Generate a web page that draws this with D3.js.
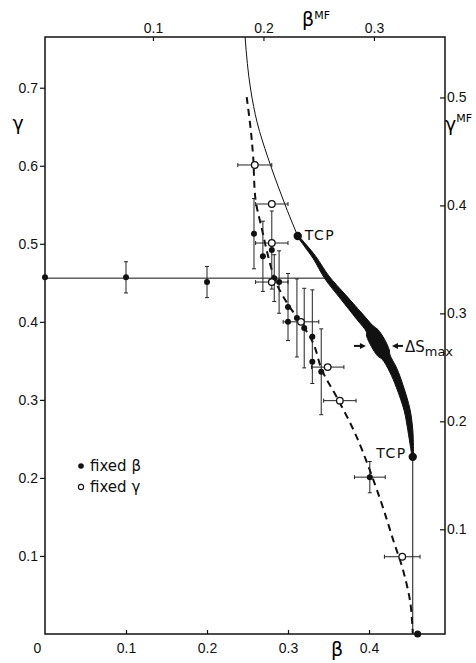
<!DOCTYPE html>
<html lang="en">
	<head>
		<meta charset="utf-8">
		<title>Phase diagram beta / gamma</title>
		<style type="text/css">
			body {
				margin: 0;
				background-color: white;
			}
			svg {
				background-color: white;
				font-family: "DejaVu Sans", sans-serif;
			}
			.axis path {
				display: none;
			}
			.axis line {
				stroke: #111;
				stroke-width: 1.2;
			}
			.axis text {
				font-size: 14px;
				fill: #111;
			}
			.frame {
				fill: none;
				stroke: #111;
				stroke-width: 1.5;
			}
			.thin {
				fill: none;
				stroke: #111;
				stroke-width: 1;
			}
			.dashed {
				fill: none;
				stroke: #111;
				stroke-width: 2;
				stroke-dasharray: 7,5;
			}
			.err {
				stroke: #222;
				stroke-width: 1;
			}
			.label {
				font-size: 14px;
				fill: #111;
			}
		</style>
	</head>
	<body>
	<script type="text/javascript" src="https://cdnjs.cloudflare.com/ajax/libs/d3/7.8.5/d3.min.js"></script>
	<script type="text/javascript">

		// --- data ---

		// filled dots: fixed beta (error bar in gamma)
		var fixedBetaB    = [0.000, 0.100, 0.200, 0.258, 0.269, 0.280, 0.283, 0.289, 0.300, 0.300, 0.311, 0.320, 0.330, 0.330, 0.341, 0.401];
		var fixedBetaG    = [0.457, 0.457, 0.451, 0.513, 0.484, 0.492, 0.456, 0.451, 0.419, 0.400, 0.405, 0.392, 0.381, 0.349, 0.336, 0.201];
		var fixedBetaGErr = [0.000, 0.020, 0.020, 0.045, 0.045, 0.050, 0.030, 0.040, 0.043, 0.000, 0.050, 0.051, 0.060, 0.000, 0.055, 0.020];
		var fixedBetaBErr = [0, 0, 0, 0, 0, 0, 0, 0, 0, 0, 0, 0, 0, 0, 0, 0.019];

		// open circles: fixed gamma (error bar in beta)
		var fixedGammaB    = [0.259, 0.280, 0.280, 0.280, 0.316, 0.349, 0.364, 0.441];
		var fixedGammaG    = [0.601, 0.551, 0.501, 0.451, 0.400, 0.342, 0.299, 0.099];
		var fixedGammaBErr = [0.021, 0.020, 0.020, 0.020, 0.022, 0.020, 0.020, 0.022];

		// mean-field line above the upper TCP
		var mfThinB = [0.247, 0.254, 0.262, 0.275, 0.288, 0.299, 0.312];
		var mfThinG = [0.765, 0.697, 0.655, 0.611, 0.573, 0.543, 0.510];

		// first-order segment between the two TCPs, with relative entropy jump
		var mfThickB  = [0.312, 0.322, 0.333, 0.348, 0.368, 0.389, 0.401, 0.404, 0.411, 0.418, 0.421, 0.430, 0.438, 0.447, 0.451, 0.453, 0.454];
		var mfThickG  = [0.510, 0.497, 0.482, 0.457, 0.432, 0.406, 0.391, 0.386, 0.373, 0.360, 0.355, 0.338, 0.317, 0.287, 0.261, 0.240, 0.227];
		var mfThickDS = [0.10, 0.17, 0.23, 0.33, 0.43, 0.53, 0.60, 0.87, 1.00, 0.87, 0.60, 0.53, 0.47, 0.40, 0.33, 0.20, 0.10];

		// mean-field line below the lower TCP
		var mfLowB = [0.454, 0.454];
		var mfLowG = [0.227, 0.000];
		var endDot = [0.460, 0.000];

		// horizontal line
		var hLineB = [0.000, 0.348];
		var hLineG = 0.456;

		// dashed line through the Monte Carlo points
		var dashB = [0.249, 0.254, 0.257, 0.260, 0.268, 0.275, 0.285, 0.299, 0.315, 0.331, 0.342, 0.362, 0.385, 0.414, 0.430, 0.442, 0.451, 0.454];
		var dashG = [0.688, 0.646, 0.611, 0.556, 0.518, 0.486, 0.451, 0.424, 0.400, 0.373, 0.338, 0.300, 0.252, 0.172, 0.120, 0.082, 0.040, 0.001];

		// tick labels
		var betaTicks    = [0, 0.1, 0.2, 0.3, 0.4];
		var gammaTicks   = [0.1, 0.2, 0.3, 0.4, 0.5, 0.6, 0.7];
		var betaMFTicks  = [0.1, 0.2, 0.3];
		var gammaMFTicks = [0.1, 0.2, 0.3, 0.4, 0.5];

		// --- drawing ---

		var fullwidth = 476;
		var fullheight = 663;
		var frame = { left: 45, right: 445, top: 37, bottom: 634 };

		var svg = d3.select("body")
				.append("svg")
				.attr("width", fullwidth)
				.attr("height", fullheight);

		var xScale = d3.scaleLinear().domain([0, 0.4938]).range([frame.left, frame.right]);
		var xMFScale = d3.scaleLinear().domain([0.0023, 0.3643]).range([frame.left, frame.right]);
		var yScale = d3.scaleLinear().domain([0, 0.765]).range([frame.bottom, frame.top]);
		var yMFScale = d3.scaleLinear().domain([0.003, 0.556]).range([frame.bottom, frame.top]);

		var fmt = function(d) { return d === 0 ? "0" : d.toFixed(1); };

		svg.append("rect")
			.attr("class", "frame")
			.attr("x", frame.left)
			.attr("y", frame.top)
			.attr("width", frame.right - frame.left)
			.attr("height", frame.bottom - frame.top);

		var xAxis = svg.append("g")
			.attr("class", "axis")
			.attr("transform", "translate(0," + frame.bottom + ")")
			.call(d3.axisBottom(xScale).tickValues(betaTicks).tickSize(-4).tickPadding(9).tickFormat(fmt));
		// corner "0" sits left of the axis in the original
		xAxis.selectAll(".tick text").filter(function(d) { return d === 0; }).attr("dx", -8);
		xAxis.selectAll(".tick line").filter(function(d) { return d === 0; }).remove();

		svg.append("g")
			.attr("class", "axis")
			.attr("transform", "translate(0," + frame.top + ")")
			.call(d3.axisTop(xMFScale).tickValues(betaMFTicks).tickSize(-4).tickPadding(4).tickFormat(fmt));

		svg.append("g")
			.attr("class", "axis")
			.attr("transform", "translate(" + frame.left + ",0)")
			.call(d3.axisLeft(yScale).tickValues(gammaTicks).tickSize(5).tickPadding(2).tickFormat(fmt));

		svg.append("g")
			.attr("class", "axis")
			.attr("transform", "translate(" + frame.right + ",0)")
			.call(d3.axisRight(yMFScale).tickValues(gammaMFTicks).tickSize(-5).tickPadding(2).tickFormat(fmt));

		// axis titles
		svg.append("text").attr("x", 337).attr("y", 656)
			.attr("text-anchor", "middle").style("font-size", "19px").text("β");
		var bmf = svg.append("text").attr("x", 302).attr("y", 26).style("font-size", "19px");
		bmf.append("tspan").text("β");
		bmf.append("tspan").attr("dy", -7).style("font-size", "11px").text("MF");
		svg.append("text").attr("x", 18).attr("y", 130)
			.attr("text-anchor", "middle").style("font-size", "19px").text("γ");
		var gmf = svg.append("text").attr("x", 445).attr("y", 131).style("font-size", "19px");
		gmf.append("tspan").text("γ");
		gmf.append("tspan").attr("dy", -9).style("font-size", "11px").text("MF");

		var line = d3.line()
			.x(function(d) { return xScale(d[0]); })
			.y(function(d) { return yScale(d[1]); });

		// horizontal line
		svg.append("path")
			.attr("class", "thin")
			.attr("d", line([[hLineB[0], hLineG], [hLineB[1], hLineG]]));

		// mean-field lines
		var thinPts = d3.zip(mfThinB, mfThinG);
		svg.append("path")
			.attr("class", "thin")
			.attr("d", line.curve(d3.curveMonotoneY)(thinPts));
		line.curve(d3.curveLinear);

		svg.append("path")
			.attr("class", "thin")
			.attr("d", line(d3.zip(mfLowB, mfLowG)));

		// thick first-order band: outline offset by the entropy jump
		var wScale = d3.scaleLinear().domain([0, 1]).range([0, 15]);
		var px = mfThickB.map(function(b, i) { return [xScale(b), yScale(mfThickG[i])]; });
		var sideA = [], sideB = [];
		px.forEach(function(p, i) {
			var p0 = px[Math.max(i - 1, 0)], p1 = px[Math.min(i + 1, px.length - 1)];
			var dx = p1[0] - p0[0], dy = p1[1] - p0[1];
			var len = Math.sqrt(dx * dx + dy * dy);
			var nx = -dy / len, ny = dx / len;
			var h = wScale(mfThickDS[i]) / 2;
			sideA.push([p[0] + nx * h, p[1] + ny * h]);
			sideB.push([p[0] - nx * h, p[1] - ny * h]);
		});
		var pxLine = d3.line().curve(d3.curveCatmullRom);
		var outline = pxLine(sideA) + pxLine(sideB.reverse()).replace(/^M/, "L") + "Z";
		svg.append("path")
			.attr("d", outline)
			.attr("fill", "#111")
			.attr("stroke", "#111")
			.attr("stroke-width", 1)
			.attr("stroke-linejoin", "round");

		// TCP dots and end dot
		var tcpUp = [mfThickB[0], mfThickG[0]];
		var tcpLow = [mfThickB[mfThickB.length - 1], mfThickG[mfThickG.length - 1]];
		[tcpUp, tcpLow].forEach(function(d) {
			svg.append("circle").attr("cx", xScale(d[0])).attr("cy", yScale(d[1])).attr("r", 4.2).attr("fill", "#111");
		});
		svg.append("circle").attr("cx", xScale(endDot[0])).attr("cy", yScale(endDot[1])).attr("r", 3.5).attr("fill", "#111");

		svg.append("text").attr("class", "label")
			.attr("x", xScale(tcpUp[0]) + 7).attr("y", yScale(tcpUp[1]) + 4)
			.style("letter-spacing", "1.5px").text("TCP");
		svg.append("text").attr("class", "label")
			.attr("x", xScale(tcpLow[0]) - 6).attr("y", yScale(tcpLow[1]) + 1)
			.attr("text-anchor", "end")
			.style("letter-spacing", "1.5px").text("TCP");

		// delta S max marker
		var iMax = d3.maxIndex(mfThickDS);
		var mx = xScale(mfThickB[iMax]), my = yScale(mfThickG[iMax]) + 3;
		var arrows = [[mx - 24, mx - 12], [mx + 25, mx + 14]];
		arrows.forEach(function(a) {
			var dir = a[1] > a[0] ? 1 : -1;
			svg.append("line").attr("x1", a[0]).attr("x2", a[1] - dir * 4)
				.attr("y1", my).attr("y2", my).attr("stroke", "#111").attr("stroke-width", 2);
			svg.append("path")
				.attr("d", "M" + a[1] + "," + my + "L" + (a[1] - dir * 6) + "," + (my - 3) + "L" + (a[1] - dir * 6) + "," + (my + 3) + "Z")
				.attr("fill", "#111");
		});
		var ds = svg.append("text").attr("class", "label").attr("x", mx + 27).attr("y", my + 6).style("font-size", "15px");
		ds.append("tspan").text("ΔS");
		ds.append("tspan").attr("dy", 4).style("font-size", "13px").text("max");

		// dashed line
		svg.append("path")
			.attr("class", "dashed")
			.attr("d", line.curve(d3.curveCatmullRom)(d3.zip(dashB, dashG)));
		line.curve(d3.curveLinear);

		// error bars
		var cap = 2;
		var filled = fixedBetaB.map(function(b, i) {
			return { b: b, g: fixedBetaG[i], ge: fixedBetaGErr[i], be: fixedBetaBErr[i] };
		});
		var open = fixedGammaB.map(function(b, i) {
			return { b: b, g: fixedGammaG[i], ge: 0, be: fixedGammaBErr[i] };
		});

		function drawErrors(data) {
			data.forEach(function(d) {
				var cx = xScale(d.b), cy = yScale(d.g);
				if (d.ge > 0) {
					var y0 = yScale(d.g - d.ge), y1 = yScale(d.g + d.ge);
					svg.append("line").attr("class", "err").attr("x1", cx).attr("x2", cx).attr("y1", y0).attr("y2", y1);
					svg.append("line").attr("class", "err").attr("x1", cx - cap).attr("x2", cx + cap).attr("y1", y0).attr("y2", y0);
					svg.append("line").attr("class", "err").attr("x1", cx - cap).attr("x2", cx + cap).attr("y1", y1).attr("y2", y1);
				}
				if (d.be > 0) {
					var x0 = xScale(d.b - d.be), x1 = xScale(d.b + d.be);
					svg.append("line").attr("class", "err").attr("x1", x0).attr("x2", x1).attr("y1", cy).attr("y2", cy);
					svg.append("line").attr("class", "err").attr("x1", x0).attr("x2", x0).attr("y1", cy - cap).attr("y2", cy + cap);
					svg.append("line").attr("class", "err").attr("x1", x1).attr("x2", x1).attr("y1", cy - cap).attr("y2", cy + cap);
				}
			});
		}
		drawErrors(filled);
		drawErrors(open);

		svg.selectAll("circle.filled")
			.data(filled)
			.enter()
			.append("circle")
			.attr("class", "filled")
			.attr("cx", function(d) { return xScale(d.b); })
			.attr("cy", function(d) { return yScale(d.g); })
			.attr("r", 3)
			.attr("fill", "#111");

		svg.selectAll("circle.open")
			.data(open)
			.enter()
			.append("circle")
			.attr("class", "open")
			.attr("cx", function(d) { return xScale(d.b); })
			.attr("cy", function(d) { return yScale(d.g); })
			.attr("r", 3.3)
			.attr("fill", "white")
			.attr("stroke", "#111")
			.attr("stroke-width", 1.3);

		// legend
		svg.append("circle").attr("cx", 81).attr("cy", 466).attr("r", 2.8).attr("fill", "#111");
		svg.append("text").attr("class", "label").attr("x", 90).attr("y", 471).style("font-size", "15px").text("fixed β");
		svg.append("circle").attr("cx", 81).attr("cy", 487).attr("r", 2.6).attr("fill", "white").attr("stroke", "#111").attr("stroke-width", 1.1);
		svg.append("text").attr("class", "label").attr("x", 90).attr("y", 492).style("font-size", "15px").text("fixed γ");

	</script>
	</body>
</html>
